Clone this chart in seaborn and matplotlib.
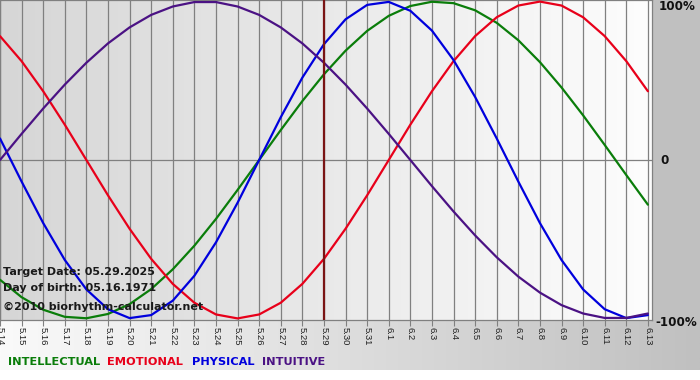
import matplotlib
matplotlib.use("Agg")
import numpy as np
import pandas as pd
import matplotlib.pyplot as plt
import seaborn as sns
from matplotlib.colors import LinearSegmentedColormap

# day labels (month.day) from 05.14.2025 to 06.13.2025
days = ["5.14", "5.15", "5.16", "5.17", "5.18", "5.19", "5.20", "5.21", "5.22",
        "5.23", "5.24", "5.25", "5.26", "5.27", "5.28", "5.29", "5.30", "5.31",
        "6.1", "6.2", "6.3", "6.4", "6.5", "6.6", "6.7", "6.8", "6.9", "6.10",
        "6.11", "6.12", "6.13"]

# cycle values (-1 .. 1), one per day
intellectual = [-0.756, -0.866, -0.945, -0.990, -0.999, -0.972, -0.910, -0.815,
                -0.690, -0.541, -0.372, -0.189, 0.000, 0.189, 0.372, 0.541,
                0.690, 0.815, 0.910, 0.972, 0.999, 0.990, 0.945, 0.866, 0.756,
                0.618, 0.458, 0.282, 0.095, -0.095, -0.282]
emotional = [0.782, 0.624, 0.434, 0.223, 0.000, -0.223, -0.434, -0.624, -0.782,
             -0.901, -0.975, -1.000, -0.975, -0.901, -0.782, -0.624, -0.434,
             -0.223, 0.000, 0.223, 0.434, 0.624, 0.782, 0.901, 0.975, 1.000,
             0.975, 0.901, 0.782, 0.624, 0.434]
physical = [0.136, -0.136, -0.398, -0.631, -0.817, -0.942, -0.998, -0.979,
            -0.888, -0.731, -0.520, -0.270, 0.000, 0.270, 0.520, 0.731, 0.888,
            0.979, 0.998, 0.942, 0.817, 0.631, 0.398, 0.136, -0.136, -0.398,
            -0.631, -0.817, -0.942, -0.998, -0.979]
intuitive = [0.000, 0.165, 0.325, 0.476, 0.614, 0.736, 0.837, 0.916, 0.969,
             0.997, 0.997, 0.969, 0.916, 0.837, 0.736, 0.614, 0.476, 0.325,
             0.165, 0.000, -0.165, -0.325, -0.476, -0.614, -0.736, -0.837,
             -0.916, -0.969, -0.997, -0.997, -0.969]

target_day = "5.29"
target_text = "Target Date: 05.29.2025"
birth_text = "Day of birth: 05.16.1971"
credit_text = "\u00a92010 biorhythm-calculator.net"

cycles = ["INTELLECTUAL", "EMOTIONAL", "PHYSICAL", "INTUITIVE"]
colors = {"INTELLECTUAL": "#0a7d0a", "EMOTIONAL": "#e8001a",
          "PHYSICAL": "#0000dd", "INTUITIVE": "#4b1284"}

frames = []
for name, vals in zip(cycles, [intellectual, emotional, physical, intuitive]):
    frames.append(pd.DataFrame({"day": np.arange(len(days)), "value": vals,
                                "cycle": name}))
df = pd.concat(frames, ignore_index=True)

sns.set_style("white")
plt.rcParams["font.family"] = ["DejaVu Sans"]

W, H = 700, 380
fig = plt.figure(figsize=(7, 3.8), dpi=100)
fig.patch.set_facecolor("white")

# background: bottom gradient band and right label panel
bg = fig.add_axes([0, 0, 1, 1], zorder=-1)
bg.set_xlim(0, W)
bg.set_ylim(0, H)
bg.axis("off")
band_cmap = LinearSegmentedColormap.from_list("band", ["#fafafa", "#c0c0c0"])
bg.imshow(np.linspace(0, 1, 256)[None, :], cmap=band_cmap, aspect="auto",
          extent=[0, W, H - 370, H - 320], zorder=0)
bg.add_patch(plt.Rectangle((652, H - 322), W - 652, 322, color="#c0c0c0",
                           zorder=1, lw=0))

ax = fig.add_axes([0, 60 / H, 652 / W, 320 / H])
xmax = 30.19
ax.set_xlim(0, xmax)
ax.set_ylim(-1.01, 1.01)
plot_cmap = LinearSegmentedColormap.from_list("plot", ["#d6d6d6", "#fdfdfd"])
ax.imshow(np.linspace(0, 1, 256)[None, :], cmap=plot_cmap, aspect="auto",
          extent=[0, xmax, -1.01, 1.01], zorder=0)

for i in range(len(days)):
    ax.axvline(i, color="#808080", lw=0.9, zorder=1)
ax.axhline(0, color="#808080", lw=0.9, zorder=1)

sns.lineplot(data=df, x="day", y="value", hue="cycle", hue_order=cycles,
             palette=colors, lw=1.6, legend=False, ax=ax, zorder=3)

ax.axvline(days.index(target_day), color="#7a1414", lw=1.6, zorder=4)

for sp in ax.spines.values():
    sp.set_color("#808080")
    sp.set_linewidth(0.9)

ax.set_xticks(range(len(days)))
ax.set_xticklabels(days, rotation=-90, fontsize=6.8, color="#222222",
                   family="Liberation Sans")
ax.tick_params(axis="x", length=4, width=0.8, color="#808080", pad=1,
               bottom=True)
ax.set_yticks([])
ax.set_xlabel("")
ax.set_ylabel("")

# overlay texts
for txt, y in [(target_text, 272), (birth_text, 288), (credit_text, 307)]:
    fig.text(3 / W, 1 - y / H, txt, fontsize=8, fontweight="bold",
             color="#1a1a1a", va="center", ha="left")

for txt, y, x in [("100%", 7, 659), ("0", 161, 660), ("-100%", 322, 655)]:
    fig.text(x / W, 1 - y / H, txt, fontsize=8.6, fontweight="bold",
             color="#111111", va="center", ha="left")

for name, x in zip(cycles, [8, 107, 192, 262]):
    fig.text(x / W, 1 - 362 / H, name, fontsize=8.2, fontweight="bold",
             color=colors[name], va="center", ha="left")

fig.savefig("out.png", dpi=100)
